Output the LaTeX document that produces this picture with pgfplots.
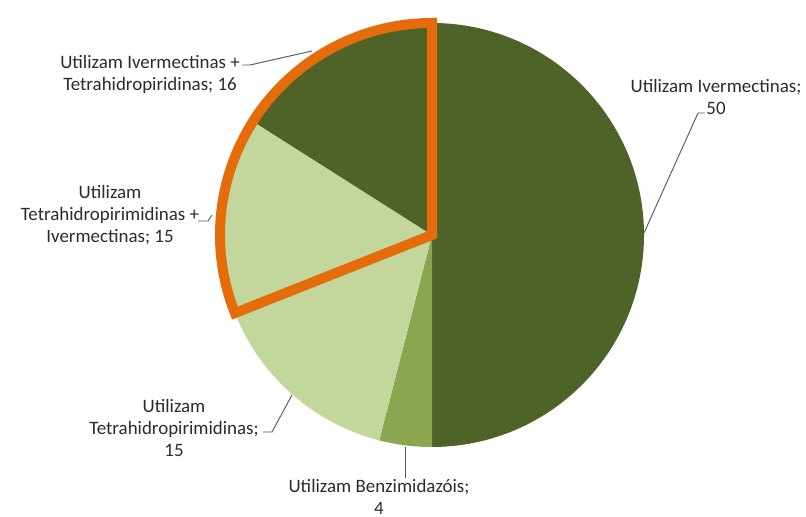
\documentclass[border=0pt]{standalone}
\usepackage{fontspec}
\setmainfont{Carlito}
\usepackage{pgfplots}
\pgfplotsset{compat=1.18}

\definecolor{cDark}{HTML}{4F6228}
\definecolor{cMid}{HTML}{8AA64F}
\definecolor{cLight}{HTML}{C3D69B}
\definecolor{cHigh}{HTML}{E46C0A}
\definecolor{cText}{HTML}{2B2B2B}
\definecolor{cLead}{HTML}{595959}

% values (percent), clockwise from 12 o'clock
\def\vA{50} % Ivermectinas
\def\vB{4}  % Benzimidazois
\def\vC{15} % Tetrahidropirimidinas
\def\vD{15} % Tetrahidropirimidinas + Ivermectinas
\def\vE{16} % Ivermectinas + Tetrahidropiridinas

\pgfmathsetmacro\aA{90}
\pgfmathsetmacro\aB{\aA-3.6*\vA}
\pgfmathsetmacro\aC{\aB-3.6*\vB}
\pgfmathsetmacro\aD{\aC-3.6*\vC}
\pgfmathsetmacro\aE{\aD-3.6*\vD}
\pgfmathsetmacro\aF{\aE-3.6*\vE}

\def\cx{432}
\def\cy{282}
\def\R{159pt}

\tikzset{
    label node/.style={align=center, font=\fontsize{14.2}{16.5}\selectfont, text=cText, inner sep=0pt},
    leader/.style={draw=cLead, line width=0.7pt}
}

\begin{document}
\begin{tikzpicture}
\begin{axis}[
    x=0.75pt, y=0.75pt,
    xmin=0, xmax=806, ymin=0, ymax=517,
    hide axis, clip=false
]
\path (axis cs:0,0) rectangle (axis cs:806,517);

\fill[cDark]  (axis cs:\cx,\cy) -- ++(\aA:\R) arc[start angle=\aA, end angle=\aB, radius=\R] -- cycle;
\fill[cMid]   (axis cs:\cx,\cy) -- ++(\aB:\R) arc[start angle=\aB, end angle=\aC, radius=\R] -- cycle;
\fill[cLight] (axis cs:\cx,\cy) -- ++(\aC:\R) arc[start angle=\aC, end angle=\aD, radius=\R] -- cycle;
\fill[cLight] (axis cs:\cx,\cy) -- ++(\aD:\R) arc[start angle=\aD, end angle=\aE, radius=\R] -- cycle;
\fill[cDark]  (axis cs:\cx,\cy) -- ++(\aE:\R) arc[start angle=\aE, end angle=\aF, radius=\R] -- cycle;

% highlighted slices
\draw[cHigh, line width=7.5pt, miter limit=4] (axis cs:\cx,\cy) -- ++(\aD:\R) arc[start angle=\aD, end angle=\aF, radius=\R] -- cycle;

% leader lines
\draw[leader] (axis cs:644,284) -- (axis cs:698,404) -- (axis cs:705,404);
\draw[leader] (axis cs:242,452) -- (axis cs:250,452) -- (axis cs:312,466);
\draw[leader] (axis cs:198,296) -- (axis cs:208,296) -- (axis cs:212,302);
\draw[leader] (axis cs:263,85) -- (axis cs:272,85) -- (axis cs:292,122);
\draw[leader] (axis cs:405,70) -- (axis cs:405,39);

% labels
\node[label node] at (axis cs:716,420.5) {Utilizam Ivermectinas;\\50};
\node[label node] at (axis cs:150,443) {Utilizam Ivermectinas +\\Tetrahidropiridinas; 16};
\node[label node] at (axis cs:110,302) {Utilizam\\Tetrahidropirimidinas +\\Ivermectinas; 15};
\node[label node] at (axis cs:174,89) {Utilizam\\Tetrahidropirimidinas;\\15};
\node[label node] at (axis cs:379,20) {Utilizam Benzimidazóis;\\4};
\end{axis}
\end{tikzpicture}
\end{document}
